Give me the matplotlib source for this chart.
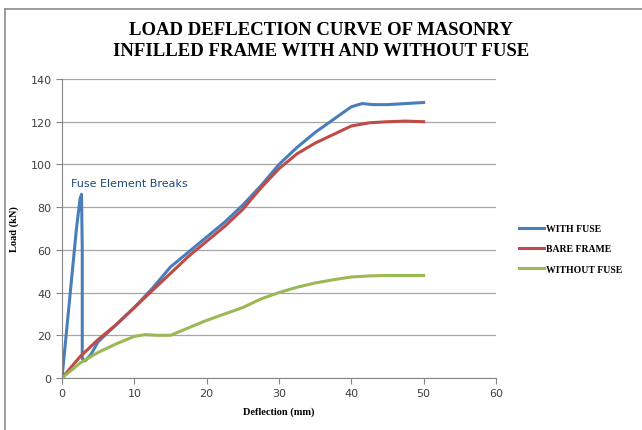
import matplotlib.pyplot as plt
from matplotlib.lines import Line2D

# data
fuse_x = [0, 1.0, 2.0, 2.5, 2.7, 2.8, 2.8, 3.2, 4.0, 5.0, 7.5, 10, 12.5, 15, 17.5, 20, 22.5, 25, 27.5, 30, 32.5, 35, 37.5, 40, 41.5, 43, 45, 47.5, 50]
fuse_y = [0, 35, 70, 84, 86, 60, 9, 8, 11, 17, 25, 33, 42, 52, 59, 66, 73, 81, 90, 100, 108, 115, 121, 127, 128.5, 128, 128, 128.5, 129]
bare_x = [0, 2.5, 5, 7.5, 10, 12.5, 15, 17.5, 20, 22.5, 25, 27.5, 30, 32.5, 35, 37.5, 40, 42.5, 45, 47.5, 50]
bare_y = [0, 10, 18, 25, 33, 41, 49, 57, 64, 71, 79, 89, 98, 105, 110, 114, 118, 119.5, 120, 120.3, 120]
nofuse_x = [0, 2.5, 5, 7.5, 10, 11.5, 13, 15, 17.5, 20, 22.5, 25, 27.5, 30, 32.5, 35, 37.5, 40, 42.5, 45, 47.5, 50]
nofuse_y = [0, 7, 12, 16, 19.5, 20.3, 20, 20, 23.5, 27, 30, 33, 37, 40, 42.5, 44.5, 46, 47.3, 47.8, 48, 48, 48]

labels = ["WITH FUSE", "BARE FRAME", "WITHOUT FUSE"]
colors = ["#4a7ebb", "#be4b48", "#98b954"]

fig = plt.figure(figsize=(6.42, 4.31), dpi=100)
ax = fig.add_axes([62 / 642, 1 - 379 / 431, 434 / 642, 299 / 431])

ax.plot(fuse_x, fuse_y, color=colors[0], lw=2.2, solid_joinstyle="round")
ax.plot(bare_x, bare_y, color=colors[1], lw=2.2)
ax.plot(nofuse_x, nofuse_y, color=colors[2], lw=2.2)

ax.set_xlim(0, 60)
ax.set_ylim(0, 140)
ax.set_xticks(range(0, 61, 10))
ax.set_yticks(range(0, 141, 20))
ax.yaxis.grid(True, color="#a6a6a6", lw=0.9)
ax.set_axisbelow(True)
for s in ["top", "right"]:
    ax.spines[s].set_visible(False)
for s in ["left", "bottom"]:
    ax.spines[s].set_color("#868686")
ax.tick_params(axis="both", labelsize=8, colors="#404040", length=4, width=0.8)
ax.tick_params(axis="both", color="#868686")

ax.set_xlabel("Deflection (mm)", family="Liberation Serif", fontweight="bold", fontsize=7.5, labelpad=6)
ax.set_ylabel("Load (kN)", family="Liberation Serif", fontweight="bold", fontsize=7.5, labelpad=8)

ax.text(1.2, 90, "Fuse Element Breaks", color="#1f497d", fontsize=8, family="DejaVu Sans")

fig.text(0.5, 1 - 41 / 431, "LOAD DEFLECTION CURVE OF MASONRY\nINFILLED FRAME WITH AND WITHOUT FUSE",
         ha="center", va="center", family="Liberation Serif", fontweight="bold", fontsize=13.5, linespacing=1.35)

handles = [Line2D([0], [0], color=c, lw=2.2) for c in colors]
fig.legend(handles, labels, loc="center left", bbox_to_anchor=(510 / 642, 1 - 250 / 431), frameon=False,
           prop={"family": "Liberation Serif", "weight": "bold", "size": 7}, handlelength=2.6,
           handletextpad=0.2, labelspacing=1.15)

# outer chart border
fig.add_artist(Line2D([5 / 642, 5 / 642], [0, 1 - 10 / 431], color="#8c8c8c", lw=1.2, transform=fig.transFigure))
fig.add_artist(Line2D([5 / 642, 1], [1 - 10 / 431, 1 - 10 / 431], color="#8c8c8c", lw=1.2, transform=fig.transFigure))

fig.savefig("out.png", dpi=100)
